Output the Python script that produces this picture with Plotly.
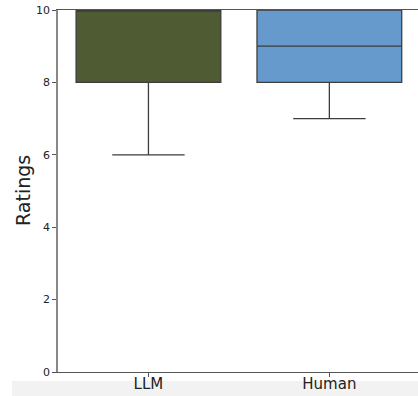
import plotly.graph_objects as go

categories = ["LLM", "Human"]
q1_vals = [8, 8]
median_vals = [10, 9]
q3_vals = [10, 10]
lower_vals = [6, 7]
upper_vals = [10, 10]
fill_colors = ["#4f5b32", "#6699cc"]
y_ticks = [0, 2, 4, 6, 8, 10]

W, H = 418, 396
ml, mr, mt, mb = 58, 0, 10, 24
ph = H - mt - mb
pw = W - ml - mr


def py_to_paper(py):
    return (H - mb - py) / ph


def px_to_paper(px):
    return (px - ml) / pw


fig = go.Figure()
for i, cat in enumerate(categories):
    fig.add_trace(go.Box(
        x=[cat], q1=[q1_vals[i]], median=[median_vals[i]], q3=[q3_vals[i]],
        lowerfence=[lower_vals[i]], upperfence=[upper_vals[i]],
        fillcolor=fill_colors[i],
        line=dict(color="#3d3d3d", width=1.3),
        width=0.8, whiskerwidth=0.5, boxpoints=False,
        showlegend=False, hoverinfo="skip",
    ))

# light grey band at the bottom of the screenshot
fig.add_shape(type="rect", xref="paper", yref="paper",
              x0=px_to_paper(12), x1=1.0,
              y0=py_to_paper(381), y1=py_to_paper(397),
              fillcolor="#f2f2f2", line=dict(width=0), layer="below")

fig.add_annotation(text="Ratings", xref="paper", yref="paper",
                   x=px_to_paper(23), y=0.5, xanchor="center", yanchor="middle",
                   textangle=-90, showarrow=False,
                   font=dict(size=19, color="#222222", family="DejaVu Sans"))

fig.update_layout(
    width=W, height=H,
    margin=dict(l=ml, r=mr, t=mt, b=mb),
    plot_bgcolor="white", paper_bgcolor="white",
    font=dict(family="DejaVu Sans", color="#222222"),
    xaxis=dict(
        range=[-0.5, 1.49], showgrid=False, zeroline=False, automargin=False,
        showline=True, linecolor="#555555", linewidth=1, mirror=True,
        ticks="outside", ticklen=4, tickcolor="#555555",
        ticklabelstandoff=-6,
        tickfont=dict(size=15, color="#222222"),
    ),
    yaxis=dict(
        range=[0, 10], showgrid=False, zeroline=False, automargin=False,
        showline=True, linecolor="#888888", linewidth=1.5,
        ticks="outside", ticklen=4, tickcolor="#555555",
        tickvals=y_ticks, ticktext=[str(v) for v in y_ticks],
        tickfont=dict(size=11, color="#222222"),
    ),
)

fig.write_html("out.html", config={"displayModeBar": False},
               post_script="document.body.style.margin='0';")
